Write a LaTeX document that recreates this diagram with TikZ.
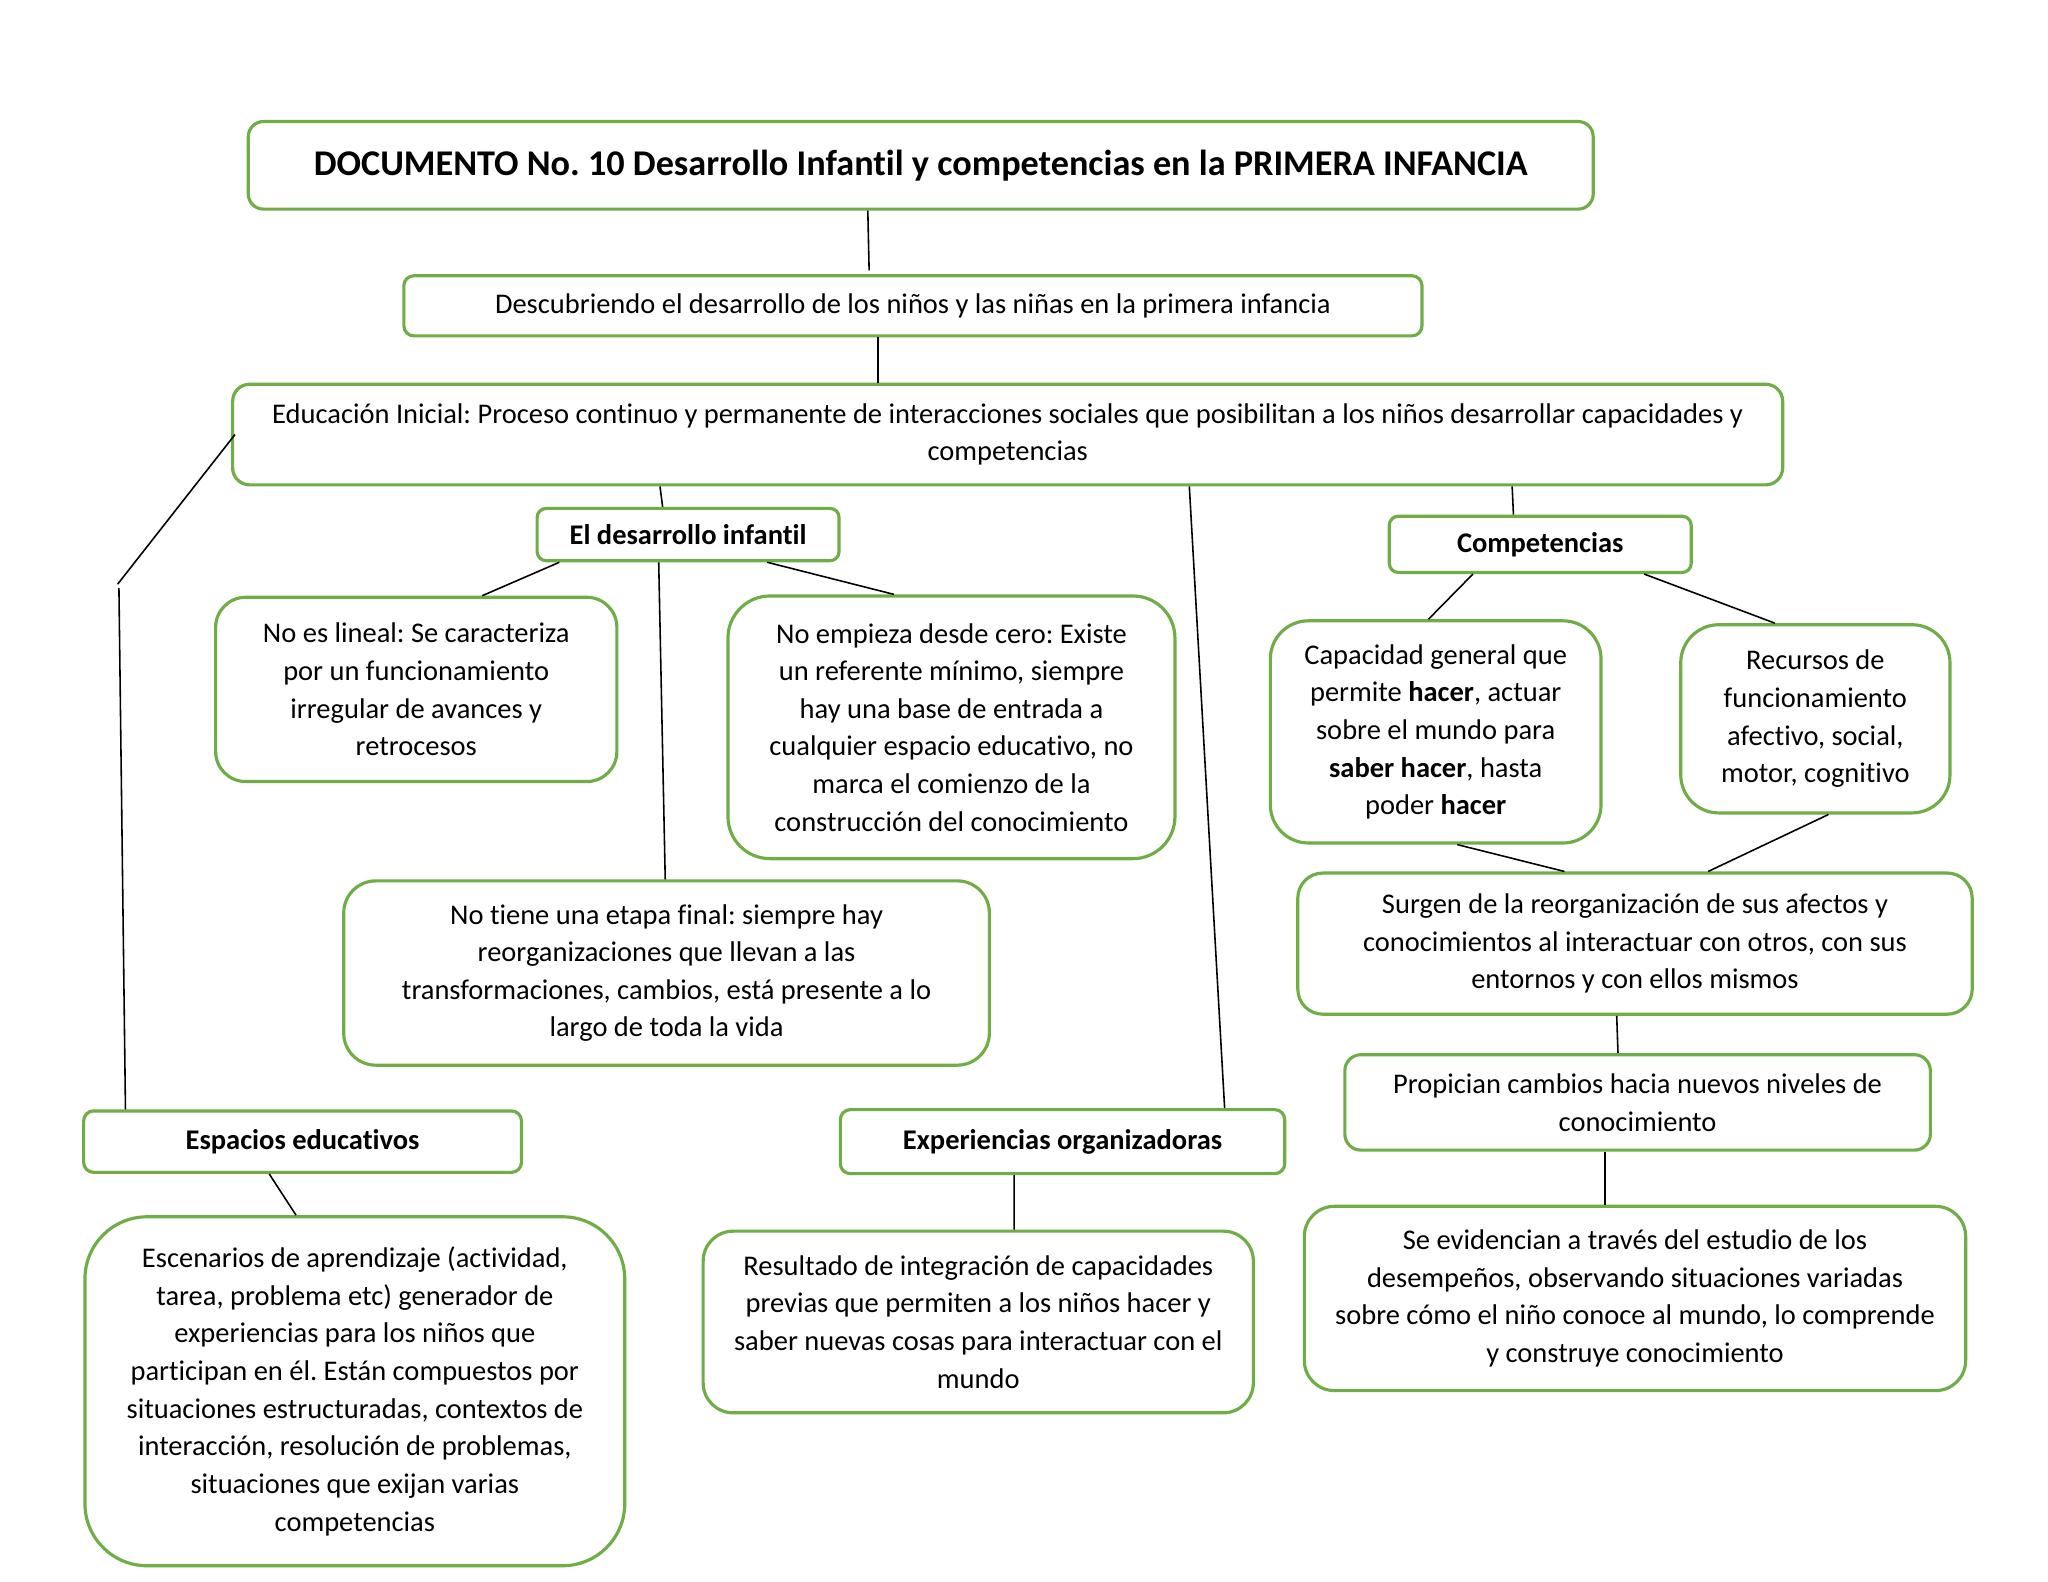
\documentclass[tikz,border=0pt]{standalone}
\usepackage{fontspec}
\setmainfont{Carlito}[Ligatures=NoCommon]
\usetikzlibrary{calc}
\definecolor{boxgreen}{RGB}{112,173,71}
\newcommand{\pxu}{0.013069cm}
\tikzset{
	box/.style = {draw = boxgreen, line width = 0.9pt, fill = white, align = center, inner sep = 0pt,
		font = \fontsize{8.1}{10.7}\selectfont},
	boldbox/.style = {box, font = \fontsize{8.1}{10.7}\selectfont\bfseries},
	link/.style = {black, line width = 0.45pt}
}
\frenchspacing
\begin{document}
\begin{tikzpicture}[x = \pxu, y = -\pxu]
		\fill[white] (0,0) rectangle (1567,1210);
		\useasboundingbox (0,0) rectangle (1567,1210);
		%
		\node[box, rounded corners = 0.15cm, minimum width = 1029*\pxu, minimum height = 67*\pxu,
			font = \fontsize{10.3}{13}\selectfont\bfseries] (title) at (704.5,126.5)
			{DOCUMENTO No. 10 Desarrollo Infantil y competencias en la PRIMERA INFANCIA};
		\node[box, rounded corners = 0.10cm, minimum width = 779*\pxu, minimum height = 46*\pxu] (descub) at (698.5,234)
			{Descubriendo el desarrollo de los niños y las niñas en la primera infancia};
		\node[box, rounded corners = 0.17cm, minimum width = 1186*\pxu, minimum height = 77*\pxu] (edu) at (771,332.5)
			{Educación Inicial: Proceso continuo y permanente de interacciones sociales que posibilitan a los niños desarrollar capacidades y\\competencias};
		%
		\node[boldbox, rounded corners = 0.09cm, minimum width = 231*\pxu, minimum height = 40*\pxu] (desinf) at (526.5,409) {El desarrollo infantil};
		\node[boldbox, rounded corners = 0.09cm, minimum width = 231*\pxu, minimum height = 43*\pxu] (comp) at (1178.5,416.5) {Competencias};
		%
		\node[box, rounded corners = 0.30cm, minimum width = 307*\pxu, minimum height = 141*\pxu] (lineal) at (318.5,527.5)
			{No es lineal: Se caracteriza\\por un funcionamiento\\irregular de avances y\\retrocesos};
		\node[box, rounded corners = 0.42cm, minimum width = 342*\pxu, minimum height = 201*\pxu] (cero) at (728,556.5)
			{No empieza desde cero: Existe\\un referente mínimo, siempre\\hay una base de entrada a\\cualquier espacio educativo, no\\marca el comienzo de la\\construcción del conocimiento};
		\node[box, rounded corners = 0.38cm, minimum width = 253*\pxu, minimum height = 170*\pxu] (capac) at (1098.5,560)
			{Capacidad general que\\permite \textbf{hacer}, actuar\\sobre el mundo para\\\textbf{saber hacer}, hasta\\poder \textbf{hacer}};
		\node[box, rounded corners = 0.38cm, minimum width = 206*\pxu, minimum height = 144*\pxu] (recur) at (1389,550)
			{Recursos de\\funcionamiento\\afectivo, social,\\motor, cognitivo};
		\node[box, rounded corners = 0.32cm, minimum width = 494*\pxu, minimum height = 141*\pxu] (etapa) at (510,744.5)
			{No tiene una etapa final: siempre hay\\reorganizaciones que llevan a las\\transformaciones, cambios, está presente a lo\\largo de toda la vida};
		\node[box, rounded corners = 0.25cm, minimum width = 516*\pxu, minimum height = 108*\pxu] (surgen) at (1251,722)
			{Surgen de la reorganización de sus afectos y\\conocimientos al interactuar con otros, con sus\\entornos y con ellos mismos};
		\node[box, rounded corners = 0.16cm, minimum width = 448*\pxu, minimum height = 73*\pxu] (propic) at (1253,843.5)
			{Propician cambios hacia nuevos niveles de\\conocimiento};
		%
		\node[boldbox, rounded corners = 0.10cm, minimum width = 335*\pxu, minimum height = 47*\pxu] (espac) at (231.5,873.5) {Espacios educativos};
		\node[boldbox, rounded corners = 0.10cm, minimum width = 340*\pxu, minimum height = 49*\pxu] (exper) at (813,873.5) {Experiencias organizadoras};
		%
		\node[box, rounded corners = 0.62cm, minimum width = 413*\pxu, minimum height = 267*\pxu] (escen) at (271.5,1064.5)
			{Escenarios de aprendizaje (actividad,\\tarea, problema etc) generador de\\experiencias para los niños que\\participan en él. Están compuestos por\\situaciones estructuradas, contextos de\\interacción, resolución de problemas,\\situaciones que exijan varias\\competencias};
		\node[box, rounded corners = 0.30cm, minimum width = 421*\pxu, minimum height = 139*\pxu] (result) at (748.5,1011.5)
			{Resultado de integración de capacidades\\previas que permiten a los niños hacer y\\saber nuevas cosas para interactuar con el\\mundo};
		\node[box, rounded corners = 0.30cm, minimum width = 506*\pxu, minimum height = 141*\pxu] (evid) at (1251,993.5)
			{Se evidencian a través del estudio de los\\desempeños, observando situaciones variadas\\sobre cómo el niño conoce al mundo, lo comprende\\y construye conocimiento};
		%
		\coordinate (kinkA) at (90,447);
		\coordinate (kinkB) at (91,450);
		%
		\draw[link] ($(title.south)+(-40.5,0)$) -- ($(descub.north)+(-33.5,-3)$);
		\draw[link] ($(descub.south)+(-26.5,0)$) -- ($(edu.north)+(-99,0)$);
		\draw[link] ($(edu.south)+(-266,0)$) -- ($(desinf.north)+(-19.5,0)$);
		\draw[link] ($(edu.south)+(386,0)$) -- ($(comp.north)+(-20.5,0)$);
		\draw[link] ($(edu.south)+(139,0)$) -- ($(exper.north)+(124,0)$);
		\draw[link] ($(edu.west)+(3,0)$) -- (kinkA);
		\draw[link] (kinkB) -- ($(espac.north)+(-135.5,0)$);
		%
		\draw[link] ($(desinf.south)+(-98.5,0)$) -- ($(lineal.north)+(50.5,0)$);
		\draw[link] ($(desinf.south)+(60.5,0)$) -- ($(cero.north)+(-44,0)$);
		\draw[link] ($(desinf.south)+(-22.5,0)$) -- ($(etapa.north)+(-1,0)$);
		\draw[link] ($(comp.south)+(-51.5,0)$) -- ($(capac.north)+(-5.5,0)$);
		\draw[link] ($(comp.south)+(79.5,0)$) -- ($(recur.north)+(-31,0)$);
		\draw[link] ($(capac.south)+(16.5,0)$) -- ($(surgen.north)+(-54,0)$);
		\draw[link] ($(recur.south)+(10,0)$) -- ($(surgen.north)+(56,0)$);
		\draw[link] ($(surgen.south)+(-14,0)$) -- ($(propic.north)+(-15,0)$);
		\draw[link] ($(propic.south)+(-25,0)$) -- ($(evid.north)+(-23,0)$);
		\draw[link] ($(espac.south)+(-25.5,0)$) -- ($(escen.north)+(-45,0)$);
		\draw[link] ($(exper.south)+(-37,0)$) -- ($(result.north)+(27.5,0)$);
		%
	\end{tikzpicture}
\end{document}
